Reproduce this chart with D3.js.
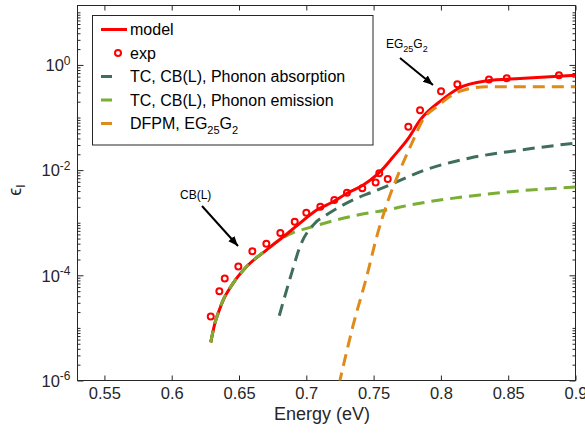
<!DOCTYPE html>
<html>
<head>
<meta charset="utf-8">
<script src="https://cdn.jsdelivr.net/npm/d3@7/dist/d3.min.js"></script>
<style>
body { margin: 0; background: #fff; }
svg { font-family: "Liberation Sans", Arial, sans-serif; }
</style>
</head>
<body>
<svg id="chart" width="585" height="435"></svg>
<script>
// ---- data ----
var xTicks = [0.55, 0.6, 0.65, 0.7, 0.75, 0.8, 0.85, 0.9];
var xTickLabels = ['0.55', '0.6', '0.65', '0.7', '0.75', '0.8', '0.85', '0.9'];
var yTickExps = [-6, -4, -2, 0];

var expEnergy = [0.629, 0.6354, 0.6394, 0.6495, 0.6599, 0.6703, 0.6807, 0.6914, 0.7, 0.7104,
    0.7208, 0.7302, 0.7416, 0.7515, 0.7542, 0.7605, 0.7758, 0.7845, 0.8001, 0.8122,
    0.8357, 0.8489, 0.8877];
var expValue = [1.65e-5, 5.0e-5, 8.7e-5, 1.47e-4, 2.88e-4, 4.0e-4, 6.4e-4, 1.04e-3, 1.55e-3, 2.02e-3,
    2.71e-3, 3.73e-3, 4.5e-3, 5.8e-3, 8.7e-3, 6.8e-3, 0.0667, 0.138, 0.317, 0.43,
    0.53, 0.56, 0.64];

var modelEnergy = [0.629, 0.6322, 0.6354, 0.6383, 0.6458, 0.6557, 0.6706, 0.6829, 0.6953, 0.7077,
    0.72, 0.73, 0.7423, 0.7523, 0.756, 0.7646, 0.7758, 0.7845, 0.8006, 0.8129,
    0.834, 0.8588, 0.9];
var modelValue = [5.3e-6, 1.26e-5, 2.2e-5, 3.4e-5, 7.2e-5, 1.47e-4, 3.05e-4, 5.4e-4, 9.8e-4, 1.75e-3,
    2.5e-3, 3.6e-3, 5.2e-3, 8.1e-3, 1.0e-2, 1.8e-2, 4.0e-2, 8.9e-2, 0.214, 0.356,
    0.497, 0.552, 0.638];

var absEnergy = [0.6799, 0.6891, 0.6953, 0.7064, 0.7151, 0.725, 0.7374, 0.7498, 0.7646, 0.7845,
    0.8216, 0.8588, 0.9];
var absValue = [1.7e-5, 1.1e-4, 3.52e-4, 9.8e-4, 1.41e-3, 2.02e-3, 2.92e-3, 3.89e-3, 5.6e-3, 9.3e-3,
    1.7e-2, 2.4e-2, 3.27e-2];

var emEnergy = [0.629, 0.6322, 0.6354, 0.6383, 0.6458, 0.6557, 0.6706, 0.678, 0.6916, 0.7015,
    0.7213, 0.7399, 0.7597, 0.7783, 0.829, 0.8662, 0.9];
var emValue = [5.3e-6, 1.26e-5, 2.2e-5, 3.4e-5, 7.2e-5, 1.47e-4, 3.05e-4, 4.33e-4, 6.7e-4, 7.96e-4,
    1.11e-3, 1.43e-3, 1.75e-3, 2.2e-3, 3.37e-3, 4.19e-3, 4.77e-3];

var dfpmEnergy = [0.7243, 0.7349, 0.7449, 0.7523, 0.7609, 0.7696, 0.7783, 0.7874, 0.7969, 0.8129,
    0.8216, 0.834, 0.8588, 0.9];
var dfpmValue = [8.4e-7, 1.15e-5, 9.5e-5, 5.4e-4, 2.7e-3, 1.0e-2, 3.2e-2, 9.7e-2, 0.16, 0.308,
    0.356, 0.383, 0.383, 0.383];

var legendLabels = ['model', 'exp', 'TC, CB(L), Phonon absorption', 'TC, CB(L), Phonon emission'];

// ---- layout ----
var svg = d3.select('#chart');
var plotLeft = 77.5, plotRight = 575.5, plotTop = 5.5, plotBottom = 380.5;
var axisColor = '#262626';

var x = d3.scaleLinear().domain([0.53, 0.9]).range([plotLeft, plotRight]);
var y = d3.scaleLog().domain([1e-6, Math.pow(10, 1.13)]).range([plotBottom, plotTop]);

var colors = {
    model: '#ff0000',
    abs: '#3f6f5a',
    em: '#7aae35',
    dfpm: '#e08a1a'
};

svg.append('clipPath').attr('id', 'plotclip')
    .append('rect')
    .attr('x', plotLeft).attr('y', plotTop)
    .attr('width', plotRight - plotLeft).attr('height', plotBottom - plotTop);

function zip(xs, ys) {
    return xs.map(function (d, i) { return [d, ys[i]]; });
}

var line = d3.line()
    .x(function (d) { return x(d[0]); })
    .y(function (d) { return y(d[1]); })
    .curve(d3.curveMonotoneX);

// minor log ticks
var minorTicks = [];
for (var k = -6; k <= 1; k++) {
    for (var m = 1; m <= 9; m++) {
        var v = m * Math.pow(10, k);
        if (v >= 1e-6 && v <= y.domain()[1] && !(m === 1 && yTickExps.indexOf(k) >= 0))
            minorTicks.push(v);
    }
}

var axes = svg.append('g').attr('class', 'axes');

axes.append('g')
    .attr('transform', 'translate(0,' + plotBottom + ')')
    .call(d3.axisBottom(x).tickValues(xTicks).tickSizeInner(-5).tickSizeOuter(0).tickPadding(7)
        .tickFormat(function (d, i) { return xTickLabels[i]; }));

axes.append('g')
    .attr('transform', 'translate(0,' + plotTop + ')')
    .call(d3.axisTop(x).tickValues(xTicks).tickSizeInner(-5).tickSizeOuter(0).tickFormat(''));

axes.append('g')
    .attr('transform', 'translate(' + plotLeft + ',0)')
    .call(d3.axisLeft(y).tickValues(minorTicks).tickSizeInner(-3).tickSizeOuter(0).tickFormat(''));

axes.append('g')
    .attr('transform', 'translate(' + plotRight + ',0)')
    .call(d3.axisRight(y).tickValues(minorTicks).tickSizeInner(-3).tickSizeOuter(0).tickFormat(''));

var yMajor = yTickExps.map(function (e) { return Math.pow(10, e); });

var yAxisLeft = axes.append('g')
    .attr('transform', 'translate(' + plotLeft + ',0)')
    .call(d3.axisLeft(y).tickValues(yMajor).tickSizeInner(-6).tickSizeOuter(0).tickPadding(8)
        .tickFormat(function () { return ''; }));

axes.append('g')
    .attr('transform', 'translate(' + plotRight + ',0)')
    .call(d3.axisRight(y).tickValues(yMajor).tickSizeInner(-6).tickSizeOuter(0).tickFormat(''));

axes.selectAll('.domain').remove();
axes.selectAll('line').attr('stroke', axisColor);
axes.selectAll('text').attr('fill', axisColor).attr('font-size', 16.5)
    .attr('font-family', '"Liberation Sans", Arial, sans-serif');

// 10^n labels with superscripts
yAxisLeft.selectAll('.tick text').each(function (d) {
    var t = d3.select(this);
    var e = Math.round(Math.log10(d));
    t.text('').attr('x', -7).attr('dy', '0.35em');
    t.append('tspan').text('10');
    t.append('tspan').attr('dy', '-0.55em').attr('font-size', 12)
        .text(e === 0 ? '0' : '-' + Math.abs(e));
});

// box
svg.append('rect')
    .attr('x', plotLeft).attr('y', plotTop)
    .attr('width', plotRight - plotLeft).attr('height', plotBottom - plotTop)
    .attr('fill', 'none').attr('stroke', axisColor).attr('stroke-width', 1);

// ---- series ----
var plot = svg.append('g').attr('clip-path', 'url(#plotclip)');

plot.append('path').datum(zip(emEnergy, emValue))
    .attr('d', line).attr('fill', 'none')
    .attr('stroke', colors.em).attr('stroke-width', 3).attr('stroke-dasharray', '12,7');

plot.append('path').datum(zip(modelEnergy, modelValue))
    .attr('d', line).attr('fill', 'none')
    .attr('stroke', colors.model).attr('stroke-width', 3);

// emission dashes are drawn over the model where they coincide
plot.append('path').datum(zip(emEnergy, emValue).filter(function (d) { return d[0] <= 0.6706; }))
    .attr('d', line).attr('fill', 'none')
    .attr('stroke', colors.em).attr('stroke-width', 3).attr('stroke-dasharray', '12,7');

plot.append('path').datum(zip(absEnergy, absValue))
    .attr('d', line).attr('fill', 'none')
    .attr('stroke', colors.abs).attr('stroke-width', 3).attr('stroke-dasharray', '12,7');

plot.append('path').datum(zip(dfpmEnergy, dfpmValue))
    .attr('d', line).attr('fill', 'none')
    .attr('stroke', colors.dfpm).attr('stroke-width', 3).attr('stroke-dasharray', '12,7');

plot.selectAll('circle.exp')
    .data(zip(expEnergy, expValue))
    .enter().append('circle')
    .attr('class', 'exp')
    .attr('cx', function (d) { return x(d[0]); })
    .attr('cy', function (d) { return y(d[1]); })
    .attr('r', 3)
    .attr('fill', 'none')
    .attr('stroke', colors.model)
    .attr('stroke-width', 2);

// ---- annotations ----
var defs = svg.append('defs');
defs.append('marker')
    .attr('id', 'arrow')
    .attr('viewBox', '0 0 10 10')
    .attr('refX', 10).attr('refY', 5)
    .attr('markerWidth', 5).attr('markerHeight', 5)
    .attr('orient', 'auto')
    .append('path').attr('d', 'M0,1 L10,5 L0,9 Z').attr('fill', '#000');

svg.append('line')
    .attr('x1', 202).attr('y1', 206).attr('x2', 238).attr('y2', 246)
    .attr('stroke', '#000').attr('stroke-width', 2).attr('marker-end', 'url(#arrow)');

svg.append('text').attr('x', 180).attr('y', 199)
    .attr('font-size', 12).attr('fill', '#000').text('CB(L)');

svg.append('line')
    .attr('x1', 400).attr('y1', 58).attr('x2', 433).attr('y2', 85)
    .attr('stroke', '#000').attr('stroke-width', 2).attr('marker-end', 'url(#arrow)');

function egLabel(t, big, small) {
    t.append('tspan').text('EG');
    t.append('tspan').attr('dy', big * 0.3).attr('font-size', small).text('25');
    t.append('tspan').attr('dy', -big * 0.3).text('G');
    t.append('tspan').attr('dy', big * 0.3).attr('font-size', small).text('2');
}

var egText = svg.append('text').attr('x', 386).attr('y', 48)
    .attr('font-size', 12).attr('fill', '#000');
egLabel(egText, 12, 9);

// ---- axis labels ----
svg.append('text')
    .attr('x', 322).attr('y', 420)
    .attr('text-anchor', 'middle').attr('font-size', 18).attr('fill', axisColor)
    .text('Energy (eV)');

var yLabel = svg.append('text')
    .attr('transform', 'translate(21,190) rotate(-90)')
    .attr('text-anchor', 'middle').attr('font-size', 18).attr('fill', axisColor);
yLabel.append('tspan').text('\u03f5');
yLabel.append('tspan').attr('dy', 4).attr('font-size', 12).text('I');

// ---- legend ----
var legend = svg.append('g');
legend.append('rect')
    .attr('x', 92.5).attr('y', 15.5).attr('width', 280.5).attr('height', 129.5)
    .attr('fill', '#fff').attr('stroke', axisColor).attr('stroke-width', 1);

var rowY = function (i) { return 29.5 + i * 23.5; };

legend.append('line')
    .attr('x1', 101).attr('x2', 127).attr('y1', rowY(0)).attr('y2', rowY(0))
    .attr('stroke', colors.model).attr('stroke-width', 3);

legend.append('circle')
    .attr('cx', 118).attr('cy', rowY(1)).attr('r', 3)
    .attr('fill', 'none').attr('stroke', colors.model).attr('stroke-width', 2);

[colors.abs, colors.em, colors.dfpm].forEach(function (c, i) {
    legend.append('line')
        .attr('x1', 101).attr('x2', 112).attr('y1', rowY(i + 2)).attr('y2', rowY(i + 2))
        .attr('stroke', c).attr('stroke-width', 3);
});

legendLabels.forEach(function (label, i) {
    legend.append('text')
        .attr('x', 130).attr('y', rowY(i)).attr('dy', '0.35em')
        .attr('font-size', 16).attr('fill', '#000').text(label);
});

var dfpmText = legend.append('text')
    .attr('x', 130).attr('y', rowY(4)).attr('dy', '0.35em')
    .attr('font-size', 16).attr('fill', '#000');
dfpmText.append('tspan').text('DFPM, ');
egLabel(dfpmText, 16, 11);
</script>
</body>
</html>
